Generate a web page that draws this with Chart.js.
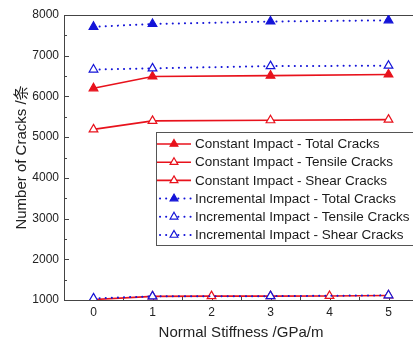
<!DOCTYPE html>
<html>
<head>
<meta charset="utf-8">
<script src="https://cdn.jsdelivr.net/npm/chart.js@4/dist/chart.umd.min.js"></script>
<style>
  html, body { margin: 0; padding: 0; background: #fff; overflow: hidden; }
  canvas { display: block; }
</style>
</head>
<body>
<canvas id="chart" width="440" height="347"></canvas>
<script>
const stiffness = [0, 1, 3, 5];
const stiffnessAll = [0, 1, 2, 3, 4, 5];
const constTotal = [6200, 6490, 6510, 6540];
const constTensile = [5190, 5400, 5415, 5430];
const constShear = [1010, 1090, 1095, 1095, 1100, 1110];
const incTotal = [7710, 7780, 7840, 7870];
const incTensile = [6660, 6690, 6745, 6755];
const incShear = [1040, 1090, 1095, 1115];
const yTicks = [1000, 2000, 3000, 4000, 5000, 6000, 7000, 8000];
const xTicks = [0, 1, 2, 3, 4, 5];

const RED = '#e8121c';
const BLUE = '#1414d8';
const FONT = '"Liberation Sans", Arial, sans-serif';

function pts(xs, ys) {
    return xs.map((x, i) => ({ x: x, y: ys[i] }));
}

function redSet(label, xs, ys, filled) {
    return {
        label: label,
        data: pts(xs, ys),
        borderColor: RED,
        backgroundColor: filled ? RED : '#fff',
        borderWidth: 1.6,
        pointStyle: 'triangle',
        pointRadius: 5,
        pointBorderWidth: 1.2,
        order: 2
    };
}

function blueSet(label, xs, ys, filled) {
    return {
        label: label,
        data: pts(xs, ys),
        borderColor: BLUE,
        backgroundColor: filled ? BLUE : '#fff',
        borderWidth: 2,
        borderDash: [0.1, 6],
        borderCapStyle: 'round',
        pointStyle: 'triangle',
        pointRadius: 5,
        pointBorderWidth: 1.2,
        order: 1
    };
}

function tri(ctx, x, y, r) {
    let rad = 0;
    ctx.beginPath();
    for (let i = 0; i < 3; i++) {
        const px = x + Math.sin(rad) * r, py = y - Math.cos(rad) * r;
        if (i === 0) ctx.moveTo(px, py); else ctx.lineTo(px, py);
        rad += Math.PI * 2 / 3;
    }
    ctx.closePath();
}

// inward ticks, top border and the boxed legend
const frame = {
    id: 'frame',
    beforeDatasetsDraw(chart) {
        const ctx = chart.ctx, a = chart.chartArea;
        const xs = chart.scales.x, ys = chart.scales.y;
        ctx.save();
        ctx.strokeStyle = '#444';
        ctx.lineWidth = 1;
        ctx.beginPath();
        ctx.moveTo(a.left, a.top + 0.5);
        ctx.lineTo(a.right, a.top + 0.5);
        ctx.lineTo(a.right - 0.5, a.bottom);
        for (let v = 1000; v <= 8000; v += 500) {
            const y = Math.round(ys.getPixelForValue(v)) + 0.5;
            ctx.moveTo(a.left, y);
            ctx.lineTo(a.left + (v % 1000 === 0 ? 5 : 3), y);
        }
        for (let v = -0.5; v <= 5.5; v += 0.5) {
            const x = Math.round(xs.getPixelForValue(v)) + 0.5;
            ctx.moveTo(x, a.bottom);
            ctx.lineTo(x, a.bottom - (Number.isInteger(v) ? 5 : 3));
        }
        ctx.stroke();
        ctx.restore();
    },
    afterDraw(chart) {
        const ctx = chart.ctx;
        const left = 156, top = 132, bottom = 245, row = 18.2;
        ctx.save();
        ctx.fillStyle = '#fff';
        ctx.fillRect(left, top, chart.width - left + 5, bottom - top);
        ctx.strokeStyle = '#555';
        ctx.lineWidth = 1;
        ctx.strokeRect(left + 0.5, top + 0.5, chart.width, bottom - top);
        ctx.font = '13.5px ' + FONT;
        ctx.textBaseline = 'middle';
        chart.data.datasets.forEach((ds, i) => {
            const y = top + 12 + i * row;
            ctx.save();
            ctx.strokeStyle = ds.borderColor;
            ctx.lineWidth = ds.borderWidth;
            ctx.setLineDash(ds.borderDash || []);
            ctx.lineCap = ds.borderCapStyle || 'butt';
            ctx.beginPath();
            ctx.moveTo(ds.borderDash ? 160 : 157, y);
            ctx.lineTo(191, y);
            ctx.stroke();
            ctx.setLineDash([]);
            ctx.lineWidth = ds.pointBorderWidth;
            ctx.fillStyle = ds.backgroundColor;
            tri(ctx, 174, y, 4.5);
            ctx.fill();
            ctx.stroke();
            ctx.restore();
            ctx.fillStyle = '#1a1a1a';
            ctx.fillText(ds.label, 195, y + 0.5);
        });
        ctx.restore();
    }
};

new Chart(document.getElementById('chart'), {
    type: 'line',
    data: {
        datasets: [
            redSet('Constant Impact - Total Cracks', stiffness, constTotal, true),
            redSet('Constant Impact - Tensile Cracks', stiffness, constTensile, false),
            redSet('Constant Impact - Shear Cracks', stiffnessAll, constShear, false),
            blueSet('Incremental Impact - Total Cracks', stiffness, incTotal, true),
            blueSet('Incremental Impact - Tensile Cracks', stiffness, incTensile, false),
            blueSet('Incremental Impact - Shear Cracks', stiffness, incShear, false)
        ]
    },
    options: {
        responsive: false,
        animation: false,
        events: [],
        layout: { padding: { top: 15, right: 22, left: 0, bottom: 0 } },
        plugins: {
            legend: { display: false },
            tooltip: { enabled: false }
        },
        scales: {
            x: {
                type: 'linear',
                min: -0.5,
                max: 5.5,
                afterBuildTicks: s => { s.ticks = xTicks.map(v => ({ value: v })); },
                afterFit: s => { s.height = 47; },
                grid: { display: false, drawTicks: false, tickLength: 0 },
                border: { display: true, color: '#444', width: 1 },
                ticks: {
                    padding: 5,
                    color: '#222',
                    font: { family: FONT, size: 12 },
                    callback: v => String(v)
                },
                title: {
                    display: true,
                    text: 'Normal Stiffness /GPa/m',
                    color: '#222',
                    font: { family: FONT, size: 15 },
                    padding: { top: 0, bottom: 5 }
                }
            },
            y: {
                min: 1000,
                max: 8000,
                afterBuildTicks: s => { s.ticks = yTicks.map(v => ({ value: v })); },
                afterFit: s => { s.width = 64; },
                grid: { display: false, drawTicks: false, tickLength: 0 },
                border: { display: true, color: '#444', width: 1 },
                ticks: {
                    padding: 5,
                    color: '#222',
                    font: { family: FONT, size: 12 },
                    callback: v => String(v)
                },
                title: {
                    display: true,
                    text: 'Number of Cracks /条',
                    color: '#222',
                    font: { family: FONT + ', "Noto Sans CJK SC"', size: 15 },
                    padding: { top: 13, bottom: 0 }
                }
            }
        }
    },
    plugins: [frame]
});
</script>
</body>
</html>
